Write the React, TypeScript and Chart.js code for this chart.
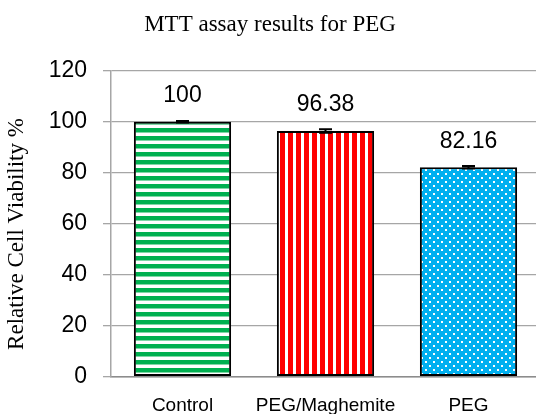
import React, { useEffect, useRef } from "react";
import { Chart, registerables } from "chart.js";

Chart.register(...registerables);

const categories = ["Control", "PEG/Maghemite", "PEG"];
const viability = [100, 96.38, 82.16];
const errors = [0.3, 0.7, 0.5];
const valueLabels = ["100", "96.38", "82.16"];
const yTicks = [0, 20, 40, 60, 80, 100, 120];
const chartTitle = "MTT assay results for PEG";
const yTitle = "Relative Cell Viability %";

function makePattern(kind: string): CanvasPattern | string {
  const t = document.createElement("canvas");
  t.width = 8;
  t.height = 8;
  const c = t.getContext("2d");
  if (!c) return "#888";
  if (kind === "h") {
    c.fillStyle = "#ffffff";
    c.fillRect(0, 0, 8, 8);
    c.fillStyle = "#00B050";
    c.fillRect(0, 0, 8, 4.5);
  } else if (kind === "v") {
    c.fillStyle = "#ffffff";
    c.fillRect(0, 0, 8, 8);
    c.fillStyle = "#FF0000";
    c.fillRect(0, 0, 5, 8);
  } else {
    c.fillStyle = "#00B0F0";
    c.fillRect(0, 0, 8, 8);
    c.fillStyle = "#ffffff";
    c.fillRect(1, 1, 2, 2);
    c.fillRect(5, 5, 2, 2);
  }
  const p = c.createPattern(t, "repeat");
  return p || "#888";
}

const overlayPlugin = {
  id: "overlay",
  afterDatasetsDraw(chart: any) {
    const ctx = chart.ctx;
    const meta = chart.getDatasetMeta(0);
    const y = chart.scales.y;
    ctx.save();
    meta.data.forEach((bar: any, i: number) => {
      const v = viability[i];
      const e = errors[i];
      const yTop = y.getPixelForValue(v + e);
      const yBot = y.getPixelForValue(v - e);
      ctx.strokeStyle = "#000";
      ctx.lineWidth = 2;
      ctx.beginPath();
      ctx.moveTo(bar.x, yTop);
      ctx.lineTo(bar.x, yBot);
      ctx.moveTo(bar.x - 6.5, yTop);
      ctx.lineTo(bar.x + 6.5, yTop);
      ctx.moveTo(bar.x - 6.5, yBot);
      ctx.lineTo(bar.x + 6.5, yBot);
      ctx.stroke();
      ctx.fillStyle = "#000";
      ctx.font = "23px 'Liberation Sans'";
      ctx.textAlign = "center";
      ctx.textBaseline = "middle";
      ctx.fillText(valueLabels[i], bar.x, bar.y - 26);
    });
    // y-axis title
    ctx.translate(17, 234);
    ctx.rotate(-Math.PI / 2);
    ctx.font = "23px 'Liberation Serif'";
    ctx.textAlign = "center";
    ctx.textBaseline = "middle";
    ctx.fillStyle = "#000";
    ctx.fillText(yTitle, 0, 0);
    ctx.restore();
  },
};

export default function App() {
  const ref = useRef<HTMLCanvasElement | null>(null);

  useEffect(() => {
    document.body.style.margin = "0";
    const canvas = ref.current;
    if (!canvas) return;
    const fills = [makePattern("h"), makePattern("v"), makePattern("d")];
    const chart = new Chart(canvas, {
      type: "bar",
      data: {
        labels: categories,
        datasets: [
          {
            data: viability,
            backgroundColor: fills as any,
            borderColor: "#000000",
            borderWidth: 2,
            borderSkipped: false,
            categoryPercentage: 1,
            barPercentage: 0.68,
          },
        ],
      },
      options: {
        responsive: false,
        animation: false,
        devicePixelRatio: 1,
        layout: { padding: 0 },
        plugins: {
          legend: { display: false },
          tooltip: { enabled: false },
          title: {
            display: true,
            text: chartTitle,
            color: "#000",
            font: { family: "'Liberation Serif'", size: 23, weight: "normal" as any },
            padding: { top: 11, bottom: 32.1 },
          },
        },
        scales: {
          x: {
            grid: { display: false },
            border: { display: true, color: "#8c8c8c", width: 1.5 },
            ticks: {
              color: "#000",
              font: { family: "'Liberation Sans'", size: 19 },
              padding: 10,
              maxRotation: 0,
              minRotation: 0,
              autoSkip: false,
            },
            afterFit(scale: any) {
              scale.height = 37.3;
            },
          },
          y: {
            min: 0,
            max: 120,
            afterBuildTicks(scale: any) {
              scale.ticks = yTicks.map((v) => ({ value: v }));
            },
            grid: { color: "#a6a6a6", lineWidth: 1.3, tickLength: 8 },
            border: { display: true, color: "#a6a6a6", width: 1.5 },
            ticks: {
              color: "#000",
              font: { family: "'Liberation Sans'", size: 23 },
              padding: 16,
            },
            afterFit(scale: any) {
              scale.width = 111;
            },
          },
        },
      },
      plugins: [overlayPlugin],
    });
    return () => chart.destroy();
  }, []);

  return (
    <div
      style={{
        position: "fixed",
        left: 0,
        top: 0,
        width: 536,
        height: 414,
        overflow: "hidden",
        background: "#fff",
      }}
    >
      <canvas ref={ref} width={540} height={414} style={{ width: 540, height: 414, display: "block" }} />
    </div>
  );
}
